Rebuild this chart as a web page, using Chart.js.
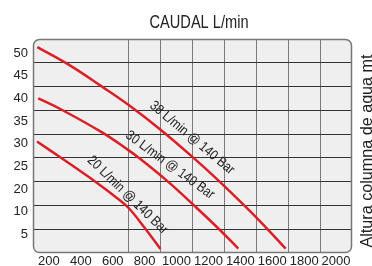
<!DOCTYPE html>
<html>
<head>
<meta charset="utf-8">
<script src="https://cdn.jsdelivr.net/npm/chart.js@4"></script>
<style>
  html, body { margin: 0; padding: 0; background: #fff; }
  #wrap { position: relative; width: 372px; height: 266px; }
</style>
</head>
<body>
<div id="wrap"><canvas id="pumpChart"></canvas></div>
<script>
// --- values
const xTickLabels = [200, 400, 600, 800, 1000, 1200, 1400, 1600, 1800, 2000];
const yTickLabels = ['50', '45', '40', '35', '30', '25', '20', '10', '5'];

const flow38 = [127, 321, 533, 698, 896, 1103, 1260, 1448, 1573, 1684];
const head38 = [51.3, 47.5, 42.6, 38.6, 33.2, 27.0, 22.0, 15.6, 11.1, 6.9];

const flow30 = [133, 280, 533, 698, 771, 948, 1116, 1272, 1387];
const head30 = [40.0, 37.5, 32.5, 28.6, 26.7, 21.6, 16.2, 11.0, 6.9];

const flow20 = [125, 280, 489, 614, 698, 802, 899];
const head20 = [30.5, 26.8, 21.7, 18.4, 15.9, 11.4, 6.8];

// text along each curve: [label, flow, head, angle in degrees]
const curveNotes = [
  ['38 L/min @ 140 Bar', 1097, 31.3, 40],
  ['30 L/min @ 140 Bar', 959, 25.3, 36],
  ['20 L/min @ 140 Bar', 693, 18.7, 44]
];

const topTitle = 'CAUDAL L/min';
const sideTitle = 'Altura columna de agua mt';

const NARROW = "'Liberation Sans Narrow', 'Arial Narrow', 'Liberation Sans', sans-serif";
const PLAIN = "'Liberation Sans', Arial, sans-serif";
const RED = '#dc1f26';

function pts(xs, ys) {
  return xs.map((x, i) => ({ x: x, y: ys[i] }));
}

function curve(xs, ys) {
  return {
    data: pts(xs, ys),
    borderColor: RED,
    borderWidth: 2.5,
    pointRadius: 0,
    fill: false,
    tension: 0.4,
    xAxisID: 'x',
    yAxisID: 'y'
  };
}

// squeeze text so it spans the given width (the original uses a condensed face)
function fittedText(ctx, text, width) {
  const w = ctx.measureText(text).width;
  const k = Math.max(0.7, Math.min(1.15, width / w));
  ctx.scale(k, 1);
  ctx.fillText(text, 0, 0);
}

// rounded grey plot box, curve notes and the two titles
const plotFrame = {
  id: 'plotFrame',
  beforeDraw(chart) {
    const { ctx, chartArea: a } = chart;
    ctx.save();
    ctx.beginPath();
    ctx.roundRect(a.left, a.top, a.right - a.left, a.bottom - a.top, 6);
    ctx.fillStyle = '#efefef';
    ctx.fill();
    ctx.restore();
  },
  afterDatasetsDraw(chart) {
    const { ctx, chartArea: a, scales } = chart;
    ctx.save();
    ctx.beginPath();
    ctx.roundRect(a.left + 0.5, a.top + 0.5, a.right - a.left - 1, a.bottom - a.top - 1, 6);
    ctx.strokeStyle = '#777';
    ctx.lineWidth = 1.5;
    ctx.stroke();

    ctx.fillStyle = '#222';
    ctx.font = '14px ' + PLAIN;
    ctx.textAlign = 'center';
    ctx.textBaseline = 'middle';
    curveNotes.forEach(n => {
      const px = scales.x.getPixelForValue(n[1]);
      const py = scales.y.getPixelForValue(n[2]);
      ctx.save();
      ctx.translate(px, py);
      ctx.rotate(n[3] * Math.PI / 180);
      fittedText(ctx, n[0], 106);
      ctx.restore();
    });

    ctx.save();
    ctx.font = '18px ' + PLAIN;
    ctx.translate((a.left + a.right) / 2 + 6.5, 23);
    fittedText(ctx, topTitle, 99);
    ctx.restore();

    ctx.save();
    ctx.font = '16.5px ' + PLAIN;
    ctx.textBaseline = 'alphabetic';
    ctx.translate(371.5, (a.top + a.bottom) / 2 + 5);
    ctx.rotate(-Math.PI / 2);
    fittedText(ctx, sideTitle, 193);
    ctx.restore();
    ctx.restore();
  }
};

const ctx = document.getElementById('pumpChart').getContext('2d');
new Chart(ctx, {
  type: 'line',
  data: {
    datasets: [curve(flow38, head38), curve(flow30, head30), curve(flow20, head20)]
  },
  options: {
    responsive: true,
    maintainAspectRatio: false,
    animation: false,
    layout: { padding: 0 },
    plugins: { legend: { display: false }, tooltip: { enabled: false } },
    scales: {
      x: {
        type: 'linear', position: 'bottom', min: 100, max: 2100,
        grid: { display: false, drawTicks: false },
        border: { display: false },
        afterBuildTicks: s => { s.ticks = xTickLabels.map(v => ({ value: v })); },
        afterFit: s => { s.height = 13; },
        ticks: {
          autoSkip: false, maxRotation: 0, padding: 1, color: '#222',
          font: { family: NARROW, size: 13 },
          callback: (v, i) => String(xTickLabels[i])
        }
      },
      y: {
        type: 'linear', position: 'left', min: 5.93, max: 53.09,
        grid: { display: false, drawTicks: false },
        border: { display: false },
        afterBuildTicks: s => { s.ticks = yTickLabels.map((t, i) => ({ value: 50 - 5 * i })); },
        afterFit: s => { s.width = 33; },
        ticks: {
          autoSkip: false, padding: 5, color: '#222',
          font: { family: NARROW, size: 13 },
          callback: (v, i) => yTickLabels[i]
        }
      },
      // grid-only axes: vertical lines start at the fourth column, nine rows
      xGrid: {
        type: 'linear', position: 'top', min: 0, max: 10,
        grid: { color: '#7a7a7a', lineWidth: 1, drawTicks: false },
        border: { display: false },
        afterBuildTicks: s => { s.ticks = [3, 4, 5, 6, 7, 8, 9].map(v => ({ value: v })); },
        afterFit: s => { s.height = 39; },
        ticks: { display: false }
      },
      yGrid: {
        type: 'linear', position: 'right', min: 0, max: 9,
        grid: { color: '#333', lineWidth: 1, drawTicks: false },
        border: { display: false },
        afterBuildTicks: s => { s.ticks = [1, 2, 3, 4, 5, 6, 7, 8].map(v => ({ value: v })); },
        afterFit: s => { s.width = 20; },
        ticks: { display: false }
      }
    }
  },
  plugins: [plotFrame]
});
</script>
</body>
</html>
